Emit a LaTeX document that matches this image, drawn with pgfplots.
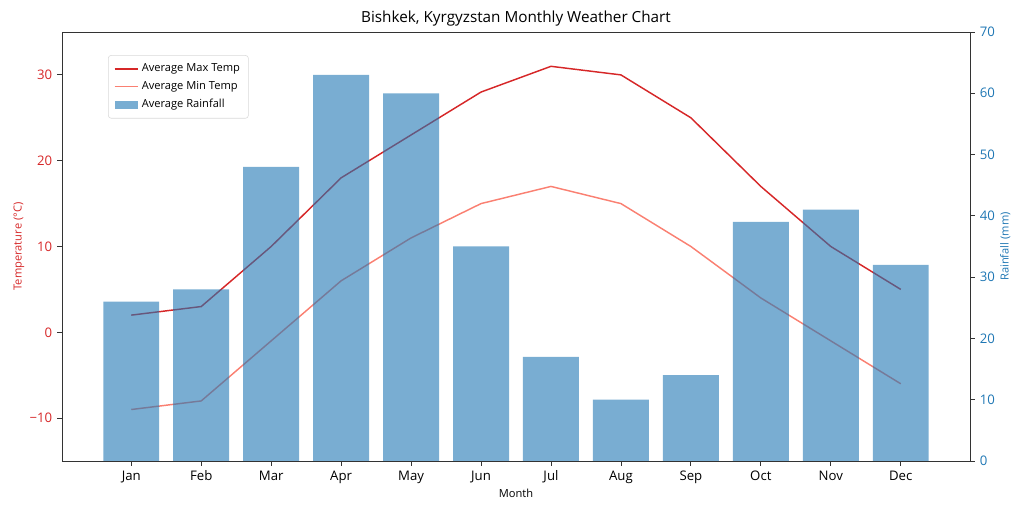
\documentclass[border=0pt]{standalone}
\usepackage{fontspec}
\setmainfont{Open Sans}
\usepackage{pgfplots}
\pgfplotsset{compat=1.18}
\definecolor{tred}{HTML}{D62728}
\definecolor{tblue}{HTML}{1F77B4}
\definecolor{salmon}{HTML}{FA8072}
\begin{document}
\begin{tikzpicture}
\pgfplotsset{
  every axis/.append style={
    scale only axis, width=653.76pt, height=308.88pt,
    xmin=-0.99, xmax=11.99,
    axis line style={black!80, line width=0.6pt},
    tick style={black!80, line width=0.6pt},
    tick align=outside, major tick length=3.5pt,
    /pgf/number format/assume math mode=true,
    tick label style={font=\fontsize{9.5}{11}\selectfont},
    label style={font=\fontsize{8}{10}\selectfont},
  }
}
\begin{axis}[
  at={(44.64pt,36.72pt)}, anchor=south west,
  ymin=-15, ymax=35,
  axis y line*=left, axis x line*=bottom,
  ytick={-10,0,10,20,30},
  yticklabels={−10,0,10,20,30},
  yticklabel style={text=tred},
  ylabel={Temperature (°C)}, ylabel style={text=tred, yshift=-3pt},
  xtick={0,...,11},
  xticklabels={Jan,Feb,Mar,Apr,May,Jun,Jul,Aug,Sep,Oct,Nov,Dec},
  xlabel={Month}, xlabel style={yshift=3pt},
  title={Bishkek, Kyrgyzstan Monthly Weather Chart},
  title style={font=\fontsize{11}{13}\selectfont, yshift=-5pt},
  clip=false,
]
\addplot[tred, line width=1.05pt] coordinates {
(0,2)(1,3)(2,10)(3,18)(4,23)(5,28)(6,31)(7,30)(8,25)(9,17)(10,10)(11,5)};
\addplot[salmon, line width=1.05pt] coordinates {
(0,-9)(1,-8)(2,-1)(3,6)(4,11)(5,15)(6,17)(7,15)(8,10)(9,4)(10,-1)(11,-6)};
\end{axis}
\begin{axis}[
  at={(44.64pt,36.72pt)}, anchor=south west,
  ymin=0, ymax=70,
  axis y line*=right, axis x line*=top,
  xtick=\empty,
  ytick={0,10,...,70},
  yticklabel style={text=tblue},
  ylabel={Rainfall (mm)}, ylabel style={text=tblue, yshift=3pt},
  legend style={at={(0.0507,0.946)}, anchor=north west,
    font=\fontsize{8}{10}\selectfont, draw=black!15, rounded corners=2pt,
    fill=white, fill opacity=0.8, text opacity=1,
    row sep=1.5pt, inner sep=4pt},
  legend cell align=left,
]
\addlegendimage{tred, line width=1.05pt}
\addlegendentry{Average Max Temp}
\addlegendimage{salmon, line width=1.05pt}
\addlegendentry{Average Min Temp}
\addplot[ybar, bar width=0.8, fill=tblue, fill opacity=0.6, draw=none,
  legend image code/.code={\fill[tblue, fill opacity=0.6, sharp corners] (0cm,-0.1cm) rectangle (0.6cm,0.1cm);}]
  coordinates {
(0,26)(1,28)(2,48)(3,63)(4,60)(5,35)(6,17)(7,10)(8,14)(9,39)(10,41)(11,32)};
\addlegendentry{Average Rainfall}
\end{axis}
\pgfresetboundingbox
\path (0,0) rectangle (737.28pt,368.64pt);
\end{tikzpicture}
\end{document}
